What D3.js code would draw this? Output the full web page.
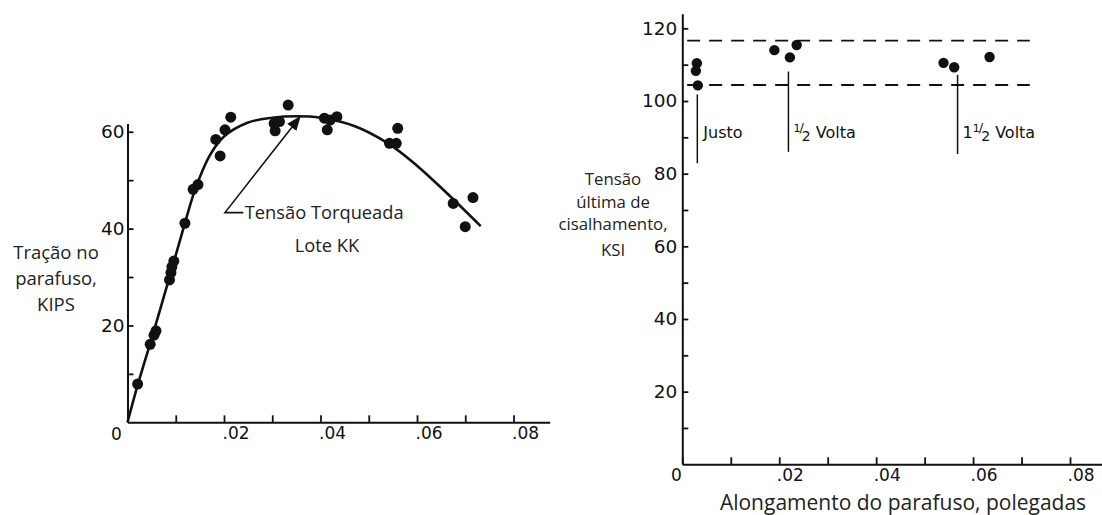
<!DOCTYPE html>
<html>
<head>
<meta charset="utf-8">
<script src="https://cdn.jsdelivr.net/npm/d3@7"></script>
<style>
  body { margin: 0; background: #fff; }
  svg { display: block; }
  .lbl { font-family: "Open Sans", sans-serif; fill: #222; }
  .tk text { font-family: "DejaVu Sans", sans-serif; fill: #111; }
</style>
</head>
<body>
<svg width="1102" height="515"></svg>
<script>
// ---- left chart: bolt tension vs elongation (x in inches, y in kips)
var tensionX = [0.0021, 0.0047, 0.0055, 0.0059, 0.0087, 0.0090, 0.0092, 0.0096, 0.0119, 0.0136,
                0.0146, 0.0183, 0.0192, 0.0202, 0.0214, 0.0304, 0.0306, 0.0315, 0.0333, 0.0408,
                0.0414, 0.0420, 0.0434, 0.0543, 0.0557, 0.0560, 0.0675, 0.0700, 0.0716];
var tensionY = [7.9, 16.1, 18.0, 18.9, 29.4, 30.9, 32.1, 33.3, 41.1, 48.1,
                49.1, 58.4, 55.0, 60.4, 63.0, 61.7, 60.2, 62.1, 65.5, 62.8,
                60.4, 62.4, 63.1, 57.6, 57.6, 60.7, 45.2, 40.4, 46.4];
// fitted curve
var curveX = [0, 0.002, 0.005, 0.009, 0.012, 0.014, 0.017, 0.020, 0.025, 0.030, 0.035, 0.040, 0.047, 0.054, 0.060, 0.066, 0.0732];
var curveY = [0, 7.3, 17.3, 31, 41.5, 48, 55, 59, 61.9, 62.9, 63.2, 62.9, 61.2, 57.6, 53.0, 47.5, 40.5];
var leftYTicks = [10, 20, 30, 40, 50, 60];
var xTicks = [0, 0.01, 0.02, 0.03, 0.04, 0.05, 0.06, 0.07, 0.08];

// ---- right chart: ultimate shear stress (ksi)
var shearX = [0.0030, 0.0028, 0.0032, 0.0190, 0.0222, 0.0236, 0.0539, 0.0561, 0.0634];
var shearY = [110.4, 108.3, 104.3, 114.0, 112.0, 115.4, 110.5, 109.3, 112.1];
var bandY = [116.6, 104.4];
var groupNames = ["Justo", "1/2 Volta", "11/2 Volta"];
var groupX = [0.0031, 0.0219, 0.0568];
var groupTop = [101.8, 108.1, 107.2];
var groupBot = [82.9, 86.0, 85.4];
var rightYTicks = [10, 20, 30, 40, 50, 60, 70, 80, 90, 100, 110, 120];

var svg = d3.select("svg");

svg.append("defs").append("marker")
  .attr("id", "arr").attr("viewBox", "0 0 10 10").attr("refX", 9).attr("refY", 5)
  .attr("markerWidth", 9).attr("markerHeight", 9).attr("orient", "auto")
  .append("path").attr("d", "M0,1 L10,5 L0,9 Z").attr("fill", "#111");

// only the even hundredths get a label, written as ".02"
var fmtX = function(d) {
  var k = Math.round(d * 100);
  return (k === 0 || k % 2) ? "" : d3.format(".2f")(d).replace(/^0/, "");
};

function styleAxis(g) {
  g.attr("class", "tk");
  g.select(".domain").attr("stroke", "#111").attr("stroke-width", 2);
  g.selectAll(".tick line").attr("stroke", "#111").attr("stroke-width", 1.8);
}

// ================= LEFT =================
var xL = d3.scaleLinear().domain([0, 0.0875]).range([127.5, 549.7]);
var yL = d3.scaleLinear().domain([0, 61.7]).range([422.3, 123.5]);

var gL = svg.append("g");

gL.append("g")
  .attr("transform", "translate(0," + yL(0) + ")")
  .call(d3.axisBottom(xL).tickValues(xTicks).tickSizeInner(-7).tickSizeOuter(0).tickPadding(4).tickFormat(fmtX))
  .call(styleAxis)
  .call(function(g) {
    g.selectAll(".tick text").attr("text-anchor", "start").attr("x", -2).attr("y", 5)
      .attr("font-size", 17);
  });

gL.append("g")
  .attr("transform", "translate(" + xL(0) + ",0)")
  .call(d3.axisLeft(yL).tickValues(leftYTicks).tickSizeInner(-6).tickSizeOuter(0).tickPadding(3)
    .tickFormat(function(d) { return d % 20 === 0 ? d : ""; }))
  .call(styleAxis)
  .call(function(g) { g.selectAll(".tick text").attr("font-size", 18.5); });

gL.append("text")
  .attr("x", xL(0) - 11).attr("y", yL(0) + 18)
  .attr("text-anchor", "middle").attr("font-family", "DejaVu Sans").attr("font-size", 17).attr("fill", "#111")
  .text("0");

var curvePts = curveX.map(function(d, i) { return [d, curveY[i]]; });
gL.append("path")
  .datum(curvePts)
  .attr("fill", "none").attr("stroke", "#111").attr("stroke-width", 2.6)
  .attr("d", d3.line().x(function(d) { return xL(d[0]); }).y(function(d) { return yL(d[1]); })
    .curve(d3.curveCatmullRom));

gL.selectAll("circle.pt")
  .data(tensionX.map(function(d, i) { return [d, tensionY[i]]; }))
  .enter().append("circle")
  .attr("class", "pt")
  .attr("cx", function(d) { return xL(d[0]); })
  .attr("cy", function(d) { return yL(d[1]); })
  .attr("r", 5.5).attr("fill", "#111");

// annotation with arrow
gL.append("path")
  .attr("fill", "none").attr("stroke", "#111").attr("stroke-width", 1.6)
  .attr("d", "M" + xL(0.0240) + "," + yL(43.3) + "L" + xL(0.0202) + "," + yL(43.3) +
             "L" + xL(0.0357) + "," + yL(63.0))
  .attr("marker-end", "url(#arr)");

gL.append("text").attr("class", "lbl").attr("font-size", 18.3)
  .attr("x", xL(0.0243)).attr("y", 218.5).text("Tensão Torqueada");
gL.append("text").attr("class", "lbl").attr("font-size", 18.3).attr("text-anchor", "middle")
  .attr("x", 327).attr("y", 252).text("Lote KK");

var yLab = gL.append("text").attr("class", "lbl").attr("font-size", 18.5).attr("text-anchor", "middle");
["Tração no", "parafuso,", "KIPS"].forEach(function(t, i) {
  yLab.append("tspan").attr("x", 56).attr("y", 259 + i * 26).text(t);
});

// ================= RIGHT =================
var xR = d3.scaleLinear().domain([0, 0.0866]).range([682.3, 1102]);
var yR = d3.scaleLinear().domain([0, 124]).range([464.3, 13.8]);

var gR = svg.append("g");

gR.append("g")
  .attr("transform", "translate(0," + yR(0) + ")")
  .call(d3.axisBottom(xR).tickValues(xTicks).tickSizeInner(-7).tickSizeOuter(0).tickPadding(4).tickFormat(fmtX))
  .call(styleAxis)
  .call(function(g) {
    g.selectAll(".tick text").attr("text-anchor", "start").attr("x", -3).attr("y", 4.5)
      .attr("font-size", 17);
  });

gR.append("g")
  .attr("transform", "translate(" + xR(0) + ",0)")
  .call(d3.axisLeft(yR).tickValues(rightYTicks).tickSizeInner(-6).tickSizeOuter(0).tickPadding(5)
    .tickFormat(function(d) { return d % 20 === 0 ? d : ""; }))
  .call(styleAxis)
  .call(function(g) { g.selectAll(".tick text").attr("font-size", 18.5); });

gR.append("text")
  .attr("x", xR(0) - 6).attr("y", yR(0) + 17)
  .attr("text-anchor", "middle").attr("font-family", "DejaVu Sans").attr("font-size", 17).attr("fill", "#111")
  .text("0");

gR.selectAll("line.band")
  .data(bandY)
  .enter().append("line")
  .attr("class", "band")
  .attr("x1", xR(0.001)).attr("x2", xR(0.0717))
  .attr("y1", function(d) { return yR(d); }).attr("y2", function(d) { return yR(d); })
  .attr("stroke", "#111").attr("stroke-width", 1.8).attr("stroke-dasharray", "13,9");

gR.selectAll("line.grp")
  .data(groupX)
  .enter().append("line")
  .attr("class", "grp")
  .attr("x1", function(d) { return xR(d); }).attr("x2", function(d) { return xR(d); })
  .attr("y1", function(d, i) { return yR(groupTop[i]); })
  .attr("y2", function(d, i) { return yR(groupBot[i]); })
  .attr("stroke", "#111").attr("stroke-width", 1.5);

gR.selectAll("circle.pt")
  .data(shearX.map(function(d, i) { return [d, shearY[i]]; }))
  .enter().append("circle")
  .attr("class", "pt")
  .attr("cx", function(d) { return xR(d[0]); })
  .attr("cy", function(d) { return yR(d[1]); })
  .attr("r", 5.2).attr("fill", "#111");

// group labels, with stacked fraction for the turn counts
groupNames.forEach(function(name, i) {
  var t = gR.append("text")
    .attr("x", xR(groupX[i]) + (i === 0 ? 6 : 5)).attr("y", 138)
    .attr("font-family", "DejaVu Sans").attr("font-size", 16).attr("fill", "#111");
  if (name === "Justo") { t.text(name); return; }
  if (name.indexOf("11/2") === 0) t.append("tspan").text("1");
  t.append("tspan").attr("font-size", 11).attr("dy", -6).text("1");
  t.append("tspan").attr("font-size", 13).attr("dx", -1).text("/");
  t.append("tspan").attr("font-size", 14).attr("dx", -2).attr("dy", 9).text("2");
  t.append("tspan").attr("dy", -3).text(" Volta");
});

var yLabR = gR.append("text").attr("class", "lbl").attr("font-size", 16.8).attr("text-anchor", "middle");
[["Tensão", 185], ["última de", 207.5], ["cisalhamento,", 230], ["KSI", 256]].forEach(function(d) {
  yLabR.append("tspan").attr("x", 613).attr("y", d[1]).text(d[0]);
});

gR.append("text").attr("class", "lbl").attr("font-size", 21).attr("text-anchor", "middle")
  .attr("x", 903).attr("y", 509.5).text("Alongamento do parafuso, polegadas");
</script>
</body>
</html>
